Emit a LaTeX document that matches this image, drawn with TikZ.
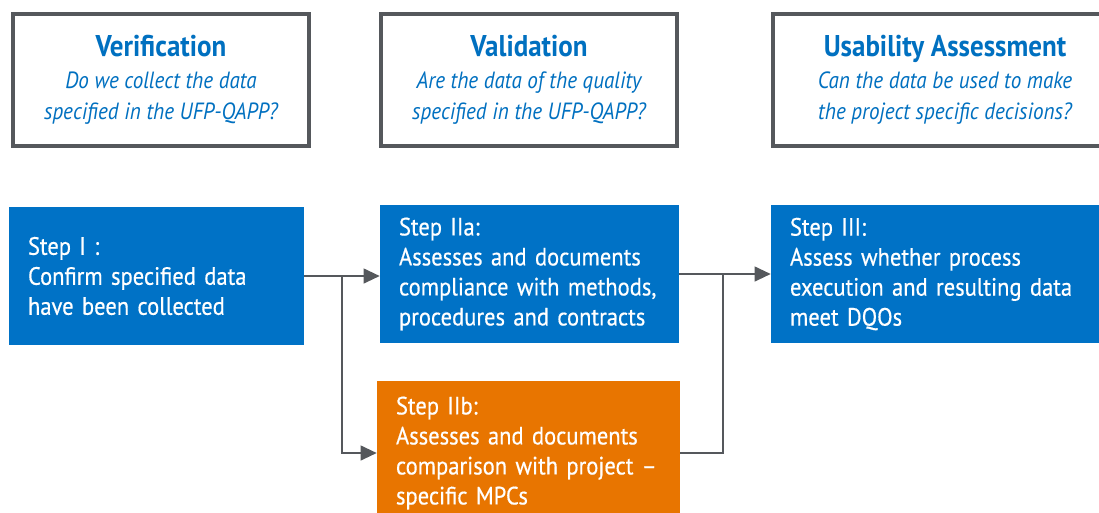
\documentclass[tikz,border=0pt]{standalone}
\usepackage{fontspec}
\setmainfont[FakeStretch=0.9]{PT Sans}
\newfontfamily\stepfont[FakeStretch=0.9,FakeBold=0.5,Ligatures=TeX]{PT Sans}
\usepackage{xcolor}
\usetikzlibrary{arrows.meta,positioning,calc}
\definecolor{StepBlue}{HTML}{0072C6}
\definecolor{StepOrange}{HTML}{E87500}
\definecolor{FrameGray}{HTML}{55585C}
\definecolor{HeadBlue}{HTML}{0070C0}

\begin{document}
\begin{tikzpicture}[x=0.75pt,y=-0.75pt,
  head/.style={rectangle,draw=FrameGray,line width=3pt,fill=white,
               minimum width=222pt,minimum height=99pt,inner sep=0pt,
               align=center,text=HeadBlue,
               font=\fontsize{17.6}{23.5}\selectfont\itshape},
  stepbox/.style={rectangle,fill=StepBlue,text=white,inner xsep=14.25pt,
                  minimum height=103.5pt,align=left,
                  font=\stepfont\fontsize{18.8}{22.5}\selectfont},
  arr/.style={-{Triangle[length=12pt,width=11pt]},line width=1.5pt,FrameGray},
  lnk/.style={line width=1.5pt,FrameGray}]
\useasboundingbox (0,0) rectangle (1099,512);
\node[head] (ver) at (161,80)
  {{\upshape\bfseries\fontsize{22.5}{21}\selectfont Verification}\\
   Do we collect the data\\specified in the UFP-QAPP?};
\node[head] (val) at (529,80)
  {{\upshape\bfseries\fontsize{22.5}{21}\selectfont Validation}\\
   Are the data of the quality\\specified in the UFP-QAPP?};
\node[head,minimum width=258pt] (usa) at (945,80)
  {{\upshape\bfseries\fontsize{22.5}{21}\selectfont Usability Assessment}\\
   Can the data be used to make\\the project specific decisions?};
\node[stepbox,text width=192.75pt] (s1) at (156.5,276)
  {Step I :\\Confirm specified data\\have been collected};
\node[stepbox,text width=195.75pt] (s2a) at (529.5,274)
  {Step IIa:\\Assesses and documents\\compliance with methods,\\procedures and contracts};
\node[stepbox,text width=222pt] (s3) at (938,274)
  {Step III:\\Assess whether process\\execution and resulting data\\meet DQOs};
\node[stepbox,fill=StepOrange,text width=198.75pt,minimum height=108pt] (s2b) at (528.5,453)
  {Step IIb:\\Assesses and documents\\comparison with project --\\specific MPCs};
\coordinate (br) at ($(s1.east)!0.5!(s1.east -| s2a.west)$);
\coordinate (jn) at ($(s2a.east)!0.478!(s2a.east -| s3.west)$);
\draw[arr] (s1.east) -- (s1.east -| s2a.west);
\draw[arr] (br) |- (s2b.west);
\draw[arr] (s2a.east) -- (s2a.east -| s3.west);
\draw[lnk] (s2b.east) -| (jn);
\end{tikzpicture}
\end{document}
